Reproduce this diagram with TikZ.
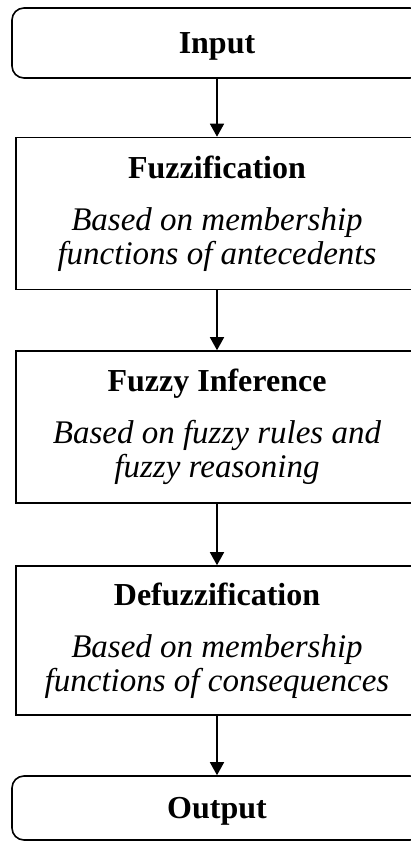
\documentclass[tikz,border=0pt]{standalone}
\usepackage{fontspec}
\setmainfont{Liberation Serif}
\usetikzlibrary{arrows.meta}

\tikzset{
  block/.style={draw, line width=1.6pt, rectangle, minimum width=402pt,
    minimum height=152pt, align=center, inner sep=0pt,
    font=\fontsize{33}{34}\selectfont},
  terminal/.style={draw, line width=1.6pt, rectangle, rounded corners=12pt,
    minimum width=410pt, minimum height=70pt, inner sep=0pt,
    text height=21.5pt, text depth=0pt,
    font=\fontsize{32}{32}\selectfont\bfseries},
  flow/.style={line width=1.6pt, -{Triangle[width=14pt,length=13pt]}},
}
\newcommand{\blocktitle}[1]{{\fontsize{32}{32}\selectfont\bfseries #1}}

\begin{document}
\begin{tikzpicture}[x=1pt, y=-1pt]
  \useasboundingbox (0,0) rectangle (411,843);
  \clip (0,0) rectangle (411,843);

  \node[terminal] (input) at (217,43) {Input};
  \node[block] (fuzz) at (217,213.5)
    {\blocktitle{Fuzzification}\\[18pt]
     \textit{Based on membership}\\
     \textit{functions of antecedents}};
  \node[block] (infer) at (217,427)
    {\blocktitle{Fuzzy Inference}\\[18pt]
     \textit{Based on fuzzy rules and}\\
     \textit{fuzzy reasoning}};
  \node[block, minimum height=149pt] (defuzz) at (217,640.5)
    {\blocktitle{Defuzzification}\\[18pt]
     \textit{Based on membership}\\
     \textit{functions of consequences}};
  \node[terminal, minimum height=64pt] (output) at (217,808) {Output};

  \draw[flow] (input) -- (fuzz);
  \draw[flow] (fuzz) -- (infer);
  \draw[flow] (infer) -- (defuzz);
  \draw[flow] (defuzz) -- (output);
\end{tikzpicture}
\end{document}
